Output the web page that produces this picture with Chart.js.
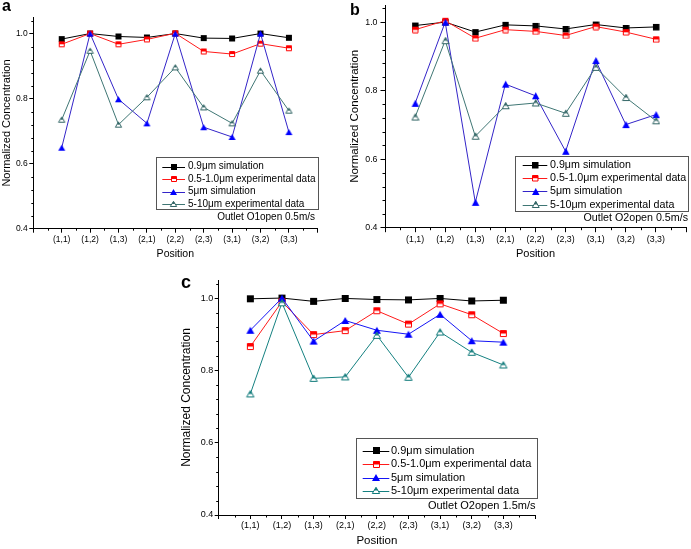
<!DOCTYPE html>
<html><head><meta charset="utf-8">
<script src="https://cdn.jsdelivr.net/npm/chart.js@4.4.1/dist/chart.umd.min.js"></script>
<style>
body{margin:0;background:#fff;width:691px;height:549px;position:relative;overflow:hidden;font-family:"Liberation Sans",Arial,sans-serif}
.p{position:absolute}
.lt{position:absolute;font-weight:bold;line-height:1;color:#000}
</style></head><body>
<div class="p" style="left:0;top:0;width:345px;height:268px"><canvas id="ca" width="345" height="268"></canvas></div>
<div class="p" style="left:345px;top:0;width:346px;height:268px"><canvas id="cb" width="346" height="268"></canvas></div>
<div class="p" style="left:160px;top:270px;width:380px;height:279px"><canvas id="cc" width="380" height="279"></canvas></div>
<div class="lt" style="left:2px;top:-2.5px;font-size:16px">a</div>
<div class="lt" style="left:350px;top:1.5px;font-size:16px">b</div>
<div class="lt" style="left:181px;top:273px;font-size:18px">c</div>
<script>
// ---- data ----
const positions = ['(1,1)','(1,2)','(1,3)','(2,1)','(2,2)','(2,3)','(3,1)','(3,2)','(3,3)'];
const seriesNames = ['0.9\u03bcm simulation','0.5-1.0\u03bcm experimental data','5\u03bcm simulation','5-10\u03bcm experimental data'];
const yTickValues = [0.4, 0.6, 0.8, 1.0];
const notes = ['Outlet O1open 0.5m/s','Outlet O2open 0.5m/s','Outlet O2open 1.5m/s'];

const a_sim09   = [0.983,1.000,0.991,0.988,1.000,0.986,0.985,1.000,0.987];
const a_exp0510 = [0.967,1.000,0.967,0.982,1.001,0.945,0.937,0.969,0.955];
const a_sim5    = [0.649,1.000,0.798,0.724,1.000,0.712,0.682,1.000,0.697];
const a_exp510  = [0.735,0.947,0.720,0.804,0.896,0.773,0.724,0.886,0.763];

const b_sim09   = [0.990,1.000,0.971,0.992,0.989,0.980,0.993,0.983,0.986];
const b_exp0510 = [0.978,1.004,0.953,0.978,0.973,0.961,0.987,0.971,0.950];
const b_sim5    = [0.763,1.000,0.474,0.819,0.785,0.623,0.888,0.701,0.730];
const b_exp510  = [0.723,0.946,0.667,0.756,0.764,0.734,0.868,0.780,0.712];

const c_sim09   = [0.998,1.000,0.991,0.999,0.996,0.995,0.999,0.992,0.994];
const c_exp0510 = [0.866,0.990,0.899,0.910,0.965,0.928,0.984,0.954,0.902];
const c_sim5    = [0.911,1.000,0.881,0.938,0.911,0.900,0.955,0.882,0.878];
const c_exp510  = [0.735,0.987,0.778,0.782,0.897,0.781,0.906,0.850,0.815];

const FONT = '"Liberation Sans", Arial, sans-serif';

function toXY(arr){ return arr.map((v,i)=>({x:i+1, y:v})); }

function makeMarker(shape, color, half, w){
  const h = shape==='tri' ? Math.round(w*0.9) : w;
  const c = document.createElement('canvas');
  c.width = w+2; c.height = h+2;
  const x = c.getContext('2d');
  x.translate(1,1);
  const path = () => {
    x.beginPath();
    if (shape==='sq') x.rect(0.5,0.5,w-1,h-1);
    else { x.moveTo(w/2,0.3); x.lineTo(w-0.3,h-0.5); x.lineTo(0.3,h-0.5); x.closePath(); }
  };
  if (half){
    path(); x.fillStyle='#fff'; x.fill();
    x.save(); path(); x.clip(); x.fillStyle=color; x.fillRect(0,0,w,h/2); x.restore();
    path(); x.strokeStyle=color; x.lineWidth=1; x.stroke();
  } else {
    if (shape==='sq'){ x.fillStyle=color; x.fillRect(0,0,w,h); }
    else { x.beginPath(); x.moveTo(w/2,0); x.lineTo(w,h); x.lineTo(0,h); x.closePath(); x.fillStyle=color; x.fill(); }
  }
  return c;
}

const boxLegend = {
  id:'boxLegend',
  afterDraw(chart, args, o){
    const ctx = chart.ctx;
    const ds = chart.data.datasets;
    ctx.save();
    ctx.fillStyle='#fff';
    ctx.fillRect(o.x1, o.y1, o.x2-o.x1, o.y2-o.y1);
    ctx.strokeStyle='#555'; ctx.lineWidth=1;
    ctx.strokeRect(Math.round(o.x1)+0.5, Math.round(o.y1)+0.5, Math.round(o.x2-o.x1), Math.round(o.y2-o.y1));
    ctx.font = o.fs + 'px ' + FONT;
    ctx.textBaseline='middle'; ctx.textAlign='left';
    ds.forEach((d,i)=>{
      const y = o.rowY + i*o.rowH;
      ctx.strokeStyle = d.borderColor; ctx.lineWidth = d.borderWidth || 1;
      ctx.beginPath(); ctx.moveTo(o.lx1, Math.round(y)+0.5); ctx.lineTo(o.lx2, Math.round(y)+0.5); ctx.stroke();
      const img = d.pointStyle;
      ctx.drawImage(img, Math.round((o.lx1+o.lx2)/2 - img.width/2), Math.round(y - img.height/2));
      ctx.fillStyle='#000';
      ctx.fillText(d.label, o.tx, y);
    });
    ctx.textAlign='right';
    ctx.fillText(o.note, o.noteX, o.noteY);
    ctx.restore();
  }
};

const minorTicks = {
  id:'minorTicks',
  afterDraw(chart, args, o){
    const {ctx, chartArea:a} = chart;
    const xs = chart.scales.x, ys = chart.scales.y;
    ctx.save(); ctx.strokeStyle='#000'; ctx.lineWidth=1; ctx.beginPath();
    for (let v=0.5; v<10; v+=1){
      const px = Math.round(xs.getPixelForValue(v))+0.5;
      ctx.moveTo(px, a.bottom); ctx.lineTo(px, a.bottom+o.len);
    }
    for (let k=0; k<=16; k++){
      if (k%5===0) continue;
      const v = 0.4 + k*0.04;
      const py = Math.round(ys.getPixelForValue(v))+0.5;
      ctx.moveTo(a.left, py); ctx.lineTo(a.left-o.len, py);
    }
    ctx.stroke(); ctx.restore();
  }
};

function build(id, s, cfg){
  const datasets = [
    {label:seriesNames[0], data:toXY(s[0]), borderColor:'#000', pointStyle:makeMarker('sq','#000',false,cfg.ms), order:3},
    {label:seriesNames[1], data:toXY(s[1]), borderColor:'#ff1a1a', pointStyle:makeMarker('sq','#ff0000',true,cfg.ms), order:2},
    {label:seriesNames[2], data:toXY(s[2]), borderColor:cfg.blueLine, pointStyle:makeMarker('tri','#0000ff',false,cfg.ts), order:1},
    {label:seriesNames[3], data:toXY(s[3]), borderColor:cfg.tealLine, pointStyle:makeMarker('tri',cfg.tealMark,true,cfg.ts), order:0}
  ];
  datasets.forEach(d=>{ d.borderWidth=1; d.pointRadius=3; d.fill=false; d.tension=0; });
  new Chart(document.getElementById(id), {
    type:'line',
    data:{datasets},
    options:{
      responsive:false, animation:false, events:[],
      layout:{padding:{left:0, top:cfg.pt, right:cfg.pr, bottom:0}},
      plugins:{legend:{display:false}, tooltip:{enabled:false}, boxLegend:cfg.legend, minorTicks:{len:cfg.mlen}},
      scales:{
        x:{type:'linear', min:0, max:10,
          afterBuildTicks:sc=>{ const t=[]; for(let v=0; v<=10; v++) t.push({value:v}); sc.ticks=t; },
          afterFit:sc=>{ sc.height=cfg.xh; sc.paddingLeft=0; sc.paddingRight=0; },
          grid:{drawOnChartArea:false, tickLength:cfg.tl, color:'#000', tickColor:'#000'},
          border:{color:'#000', width:1},
          ticks:{autoSkip:false, maxRotation:0, padding:cfg.xpad, color:'#000', font:{family:FONT, size:cfg.tf},
            callback:v=>(Number.isInteger(v) && v>=1 && v<=9) ? positions[v-1] : ''},
          title:{display:true, text:'Position', color:'#000', font:{family:FONT, size:cfg.xtf}, padding:{top:0, bottom:cfg.xtp}}
        },
        y:{type:'linear', min:0.4, max:1.05,
          afterBuildTicks:sc=>{ sc.ticks = yTickValues.map(v=>({value:v})); },
          afterFit:sc=>{ sc.width=cfg.yw; sc.paddingTop=0; sc.paddingBottom=0; },
          grid:{drawOnChartArea:false, tickLength:cfg.tl, color:'#000', tickColor:'#000'},
          border:{color:'#000', width:1},
          ticks:{padding:cfg.ypad, color:'#000', font:{family:FONT, size:cfg.tf}, callback:v=>v.toFixed(1)},
          title:{display:true, text:'Normalized Concentration', color:'#000', font:{family:FONT, size:cfg.ytf}, padding:{top:cfg.ytp, bottom:0}}
        }
      }
    },
    plugins:[minorTicks, boxLegend]
  });
}

build('ca', [a_sim09, a_exp0510, a_sim5, a_exp510], {
  pt:17.3, pr:27.7, xh:39.3, yw:33.3, tl:4, mlen:2, xpad:1.5, ypad:1.6, tf:8.5, xtf:10.5, xtp:7.7, ytf:11, ytp:0,
  ms:6, ts:7, blueLine:'#3324c8', tealLine:'#3f7674', tealMark:'#336666',
  legend:{x1:155.7, y1:157.3, x2:317.3, y2:209.3, rowY:166.7, rowH:12.4, lx1:162.3, lx2:185, tx:188, fs:10, note:notes[0], noteX:315, noteY:217.5}
});
build('cb', [b_sim09, b_exp0510, b_sim5, b_exp510], {
  pt:2.7, pr:3, xh:40.3, yw:40, tl:4.5, mlen:2.5, xpad:2, ypad:3, tf:8.8, xtf:11, xtp:7, ytf:11.5, ytp:2.5,
  ms:6.5, ts:7.5, blueLine:'#3324c8', tealLine:'#3f7674', tealMark:'#336666',
  legend:{x1:170.3, y1:155.7, x2:343, y2:210.7, rowY:165, rowH:13.2, lx1:177.7, lx2:202.3, tx:205, fs:10.7, note:notes[1], noteX:343, noteY:218.3}
});
build('cc', [c_sim09, c_exp0510, c_sim5, c_exp510], {
  pt:10, pr:3.3, xh:34, yw:58.7, tl:4, mlen:2.5, xpad:1, ypad:1.5, tf:9, xtf:11.5, xtp:1, ytf:12, ytp:19,
  ms:7, ts:8, blueLine:'#1515f5', tealLine:'#148080', tealMark:'#0f7a7a',
  legend:{x1:195.7, y1:167.7, x2:376.7, y2:227.7, rowY:180.7, rowH:13.4, lx1:202.7, lx2:229.3, tx:231, fs:11, note:notes[2], noteX:375.5, noteY:236}
});
</script>
</body></html>
